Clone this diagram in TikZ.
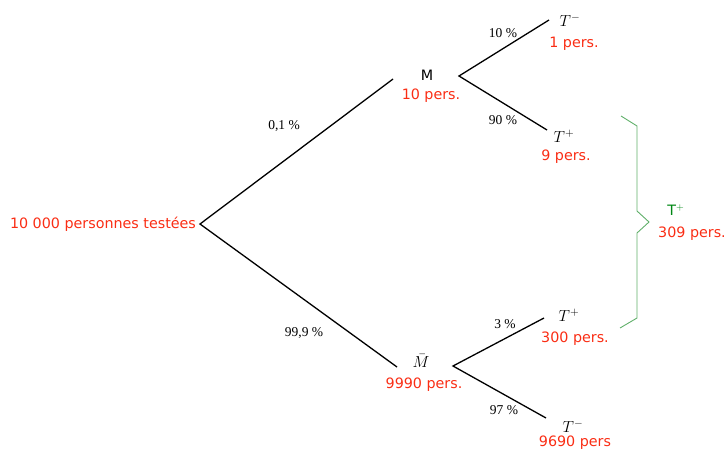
\RequirePackage{fix-cm}
\documentclass[tikz,border=0pt]{standalone}
\usepackage{fontspec}
\setsansfont{DejaVu Sans}
\newfontfamily\pctfont{Liberation Serif}
\definecolor{redtxt}{RGB}{250,45,20}
\definecolor{greentxt}{RGB}{0,135,20}
\definecolor{bracegreen}{RGB}{95,175,105}
\begin{document}
\begin{tikzpicture}[x=1pt,y=-1pt,
  cnt/.style={text=redtxt,font=\sffamily\fontsize{14.3}{16}\selectfont,inner sep=0pt},
  evt/.style={font=\fontsize{16}{18}\selectfont,inner sep=0pt},
  pct/.style={font=\pctfont\fontsize{13.5}{15}\selectfont,inner sep=0pt},
  branch/.style={line width=1.3pt,black},
  bracestyle/.style={bracegreen,line width=0.9pt}]
\useasboundingbox (0,0) rectangle (728,450);
% coordinates of branches
\coordinate (r) at (200,224);
\coordinate (m1) at (393,79);
\coordinate (m2) at (459,76);
\coordinate (b1) at (397,367);
\coordinate (b2) at (453,366);
\coordinate (t1) at (549,20);
\coordinate (t2) at (547,130);
\coordinate (t3) at (544,318);
\coordinate (t4) at (546,418);
% labels
\node[cnt] (root) at (103,224) {10 000 personnes testées};
\node[cnt,text=black] (M) at (427,75) {M};
\node[cnt] (Mn) at (431,96) {10 pers.};
\node[evt] (Mb) at (421,361) {$\bar{M}$};
\node[cnt] (Mbn) at (424,385) {9990 pers.};
\node[evt] (T1) at (570,20) {$T^{-}$};
\node[cnt] (T1n) at (574,44) {1 pers.};
\node[evt] (T2) at (564,136) {$T^{+}$};
\node[cnt] (T2n) at (566,157) {9 pers.};
\node[evt] (T3) at (569,315) {$T^{+}$};
\node[cnt] (T3n) at (575,339) {300 pers.};
\node[evt] (T4) at (573,426) {$T^{-}$};
\node[cnt] (T4n) at (575,443) {9690 pers};
\node[pct] (p1) at (284,126) {0,1 \%};
\node[pct] (p2) at (304,333) {99,9 \%};
\node[pct] (p3) at (503,33) {10 \%};
\node[pct] (p4) at (503,120) {90 \%};
\node[pct] (p5) at (505,324) {3 \%};
\node[pct] (p6) at (504,410) {97 \%};
% branches
\draw[branch] (m1) -- (r) -- (b1);
\draw[branch] (t1) -- (m2) -- (t2);
\draw[branch] (t3) -- (b2) -- (t4);
% brace
\coordinate (bt) at (621,116);
\coordinate (bb) at (620,328);
\draw[bracestyle,line join=miter] (bt) -- (637,126) -- (637,211) -- (649,222) -- (637,233) -- (637,318) -- (bb);
\node[cnt,text=greentxt] (T) at (676,210) {T$^{+}$};
\node[cnt] (Tn) at (692,234) {309 pers.};
\end{tikzpicture}
\end{document}
